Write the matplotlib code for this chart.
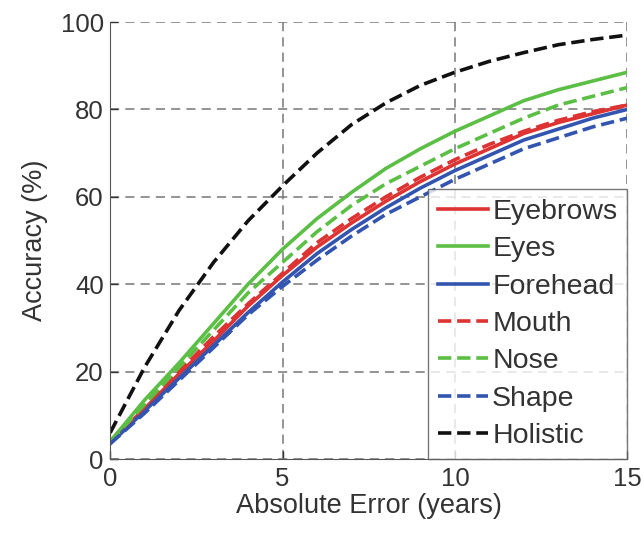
import matplotlib
matplotlib.use("Agg")
import matplotlib.pyplot as plt

plt.rcParams['font.family'] = ['Liberation Sans', 'DejaVu Sans']

x = list(range(16))
eyebrows = [4, 11.5, 19.5, 27, 35, 42, 48.5, 54, 59, 63.5, 67.5, 71, 74.5, 77, 79, 81]
eyes = [4, 13.5, 22, 31, 40, 48, 55, 61, 66.5, 71, 75, 78.5, 82, 84.5, 86.5, 88.5]
forehead = [3.5, 11, 18.5, 26, 33.5, 40.5, 47, 52.5, 57.5, 62, 66, 69.5, 73, 75.5, 78, 80]
mouth = [4, 12, 20, 28, 35.5, 42.5, 49.5, 55, 60, 64.5, 68.5, 72, 75, 77.5, 79.5, 81]
nose = [4, 12.5, 21, 29.5, 38, 45, 52, 58, 63, 67, 71, 74.5, 78, 81, 83, 85]
shape = [3.5, 10.5, 18, 25.5, 33, 39.5, 45.5, 51, 56, 60, 64, 67.5, 71, 73.5, 76, 78]
holistic = [6, 21, 34, 45, 54.5, 62.5, 70, 76.5, 81.5, 85.5, 88.5, 91, 93, 94.8, 96, 97]

labels = ['Eyebrows', 'Eyes', 'Forehead', 'Mouth', 'Nose', 'Shape', 'Holistic']
xticks = [0, 5, 10, 15]
yticks = [0, 20, 40, 60, 80, 100]

red = '#dd3333'
green = '#5cbf45'
blue = '#3355b0'
black = '#111111'

fig = plt.figure(figsize=(6.44, 5.34), dpi=100)
ax = fig.add_axes([0.171, 0.1404, 0.803, 0.8184])

series = [eyebrows, eyes, forehead, mouth, nose, shape, holistic]
colors = [red, green, blue, red, green, blue, black]
styles = ['-', '-', '-', '--', '--', '--', '--']
for s, c, ls, lab in zip(series, colors, styles, labels):
    ax.plot(x, s, color=c, linestyle=ls, linewidth=2.6, label=lab)

ax.set_xlim(0, 15)
ax.set_ylim(0, 100)
ax.set_xticks(xticks)
ax.set_yticks(yticks)
ax.tick_params(labelsize=18.5, colors='#333333', direction='in', length=6, width=1)
ax.tick_params(axis='x', pad=6)
ax.tick_params(axis='y', pad=4.5)
ax.grid(True, color='#777777', linestyle=(0, (6, 4)), linewidth=1.1)
for sp in ['top', 'right']:
    ax.spines[sp].set_visible(False)
for sp in ['left', 'bottom']:
    ax.spines[sp].set_color('#555555')
ax.set_xlabel('Absolute Error (years)', fontsize=19.5, color='#333333', labelpad=1)
ax.set_ylabel('Accuracy (%)', fontsize=19.5, color='#333333', labelpad=9)

leg = ax.legend(loc='lower right', fontsize=20.5, frameon=True, fancybox=False,
                handlelength=1.75, handletextpad=0.15, borderaxespad=0.0,
                labelspacing=0.4, borderpad=0.35)
leg.get_frame().set_edgecolor('#555555')
leg.get_frame().set_linewidth(1.0)
for t in leg.get_texts():
    t.set_color('#333333')

fig.savefig('out.png', dpi=100)
